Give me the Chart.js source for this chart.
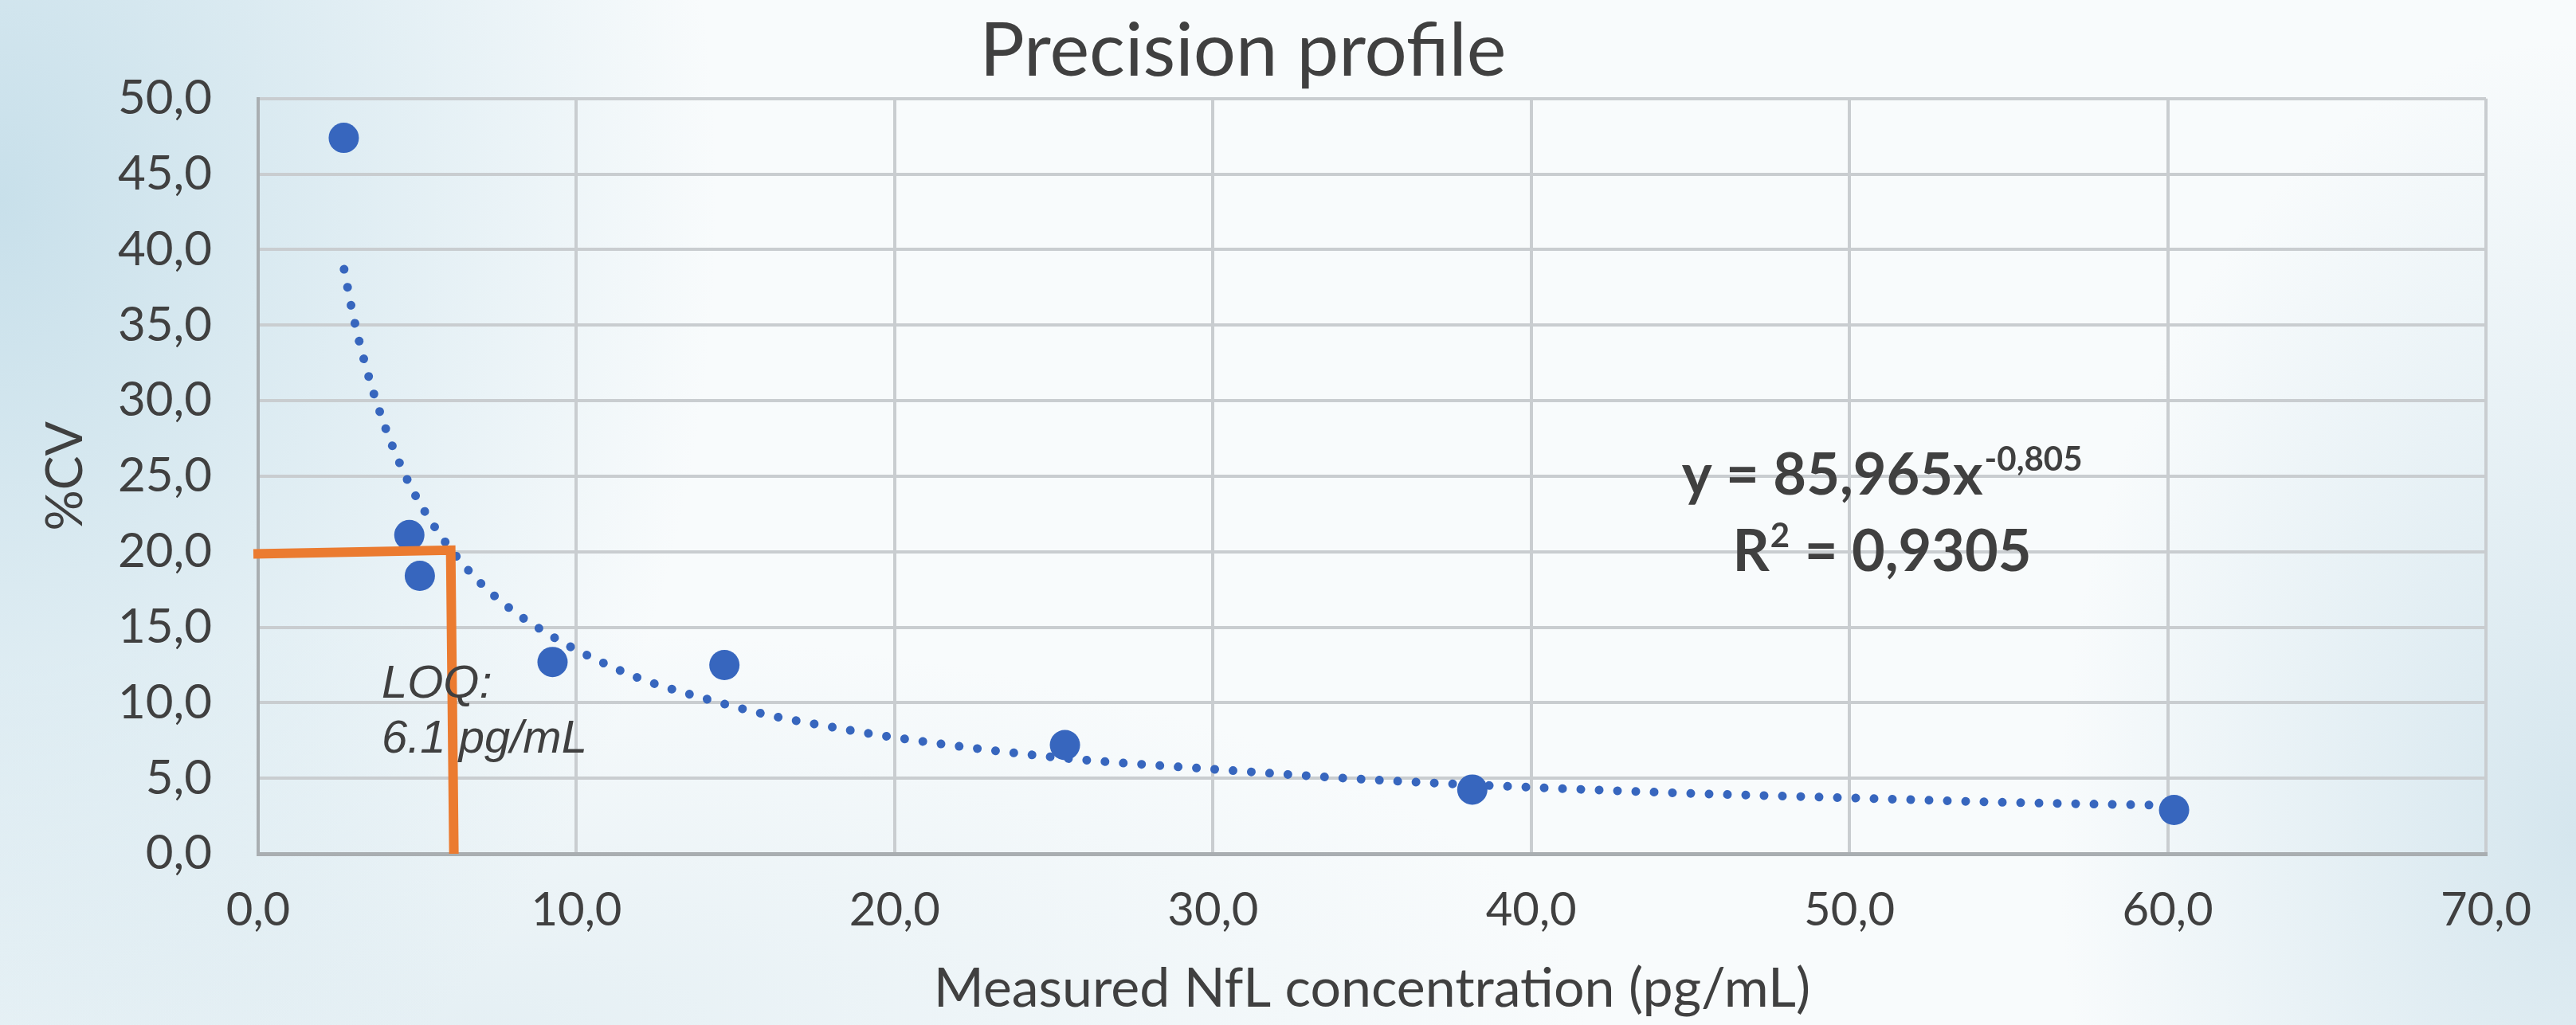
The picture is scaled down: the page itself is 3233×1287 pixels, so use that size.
<!DOCTYPE html>
<html>
<head>
<meta charset="utf-8">
<script src="https://cdn.jsdelivr.net/npm/chart.js@4.4.1/dist/chart.umd.min.js"></script>
<style>
html,body{margin:0;padding:0;width:3233px;height:1287px;overflow:hidden;}
body{
  background:
    radial-gradient(ellipse 900px 1300px at 0px 250px, rgba(188,217,230,0.8), rgba(188,217,230,0) 100%),
    radial-gradient(ellipse 650px 1000px at 3233px 1050px, rgba(198,221,232,0.7), rgba(198,221,232,0) 100%),
    radial-gradient(ellipse 1400px 500px at 600px 1287px, rgba(210,228,236,0.5), rgba(210,228,236,0) 100%),
    #f8fbfc;
}
canvas{display:block;}
</style>
</head>
<body>
<canvas id="c" width="3233" height="1287"></canvas>
<script>
// ---- data ----
const measuredX = [2.69, 4.75, 5.08, 9.25, 14.65, 25.35, 38.15, 60.2];
const cvY       = [47.4, 21.1, 18.4, 12.7, 12.5, 7.2, 4.25, 2.9];

// dotted power trendline
const trendX = [2.7, 3, 3.5, 4, 4.5, 5, 6, 7, 8, 9, 10, 12, 14, 16, 18, 20, 25, 30, 35, 40, 45, 50, 55, 60.2];
const trendY = [38.7, 35.5, 31.4, 28.2, 25.6, 23.5, 20.3, 17.9, 16.1, 14.7, 13.5, 11.6, 10.3, 9.2, 8.4, 7.7, 6.4, 5.6, 4.9, 4.4, 4.0, 3.7, 3.4, 3.2];

// orange LOQ guide line
const loqX = [-0.15, 6.05, 6.15];
const loqY = [19.85, 20.1, 0];

const xTickLabels = ['0,0','10,0','20,0','30,0','40,0','50,0','60,0','70,0'];
const yTickLabels = ['0,0','5,0','10,0','15,0','20,0','25,0','30,0','35,0','40,0','45,0','50,0'];

const titleText = 'Precision profile';
const xTitle = 'Measured NfL concentration (pg/mL)';
const yTitle = '%CV';
const eqMain = 'y = 85,965x';
const eqSup = '-0,805';
const r2Main = 'R';
const r2Sup = '2';
const r2Rest = ' = 0,9305';
const loqLines = ['LOQ:', '6.1 pg/mL'];

const textColor = '#404040';
const blue = '#3766be';
const orange = '#eb7b30';

const toPts = (xs, ys) => xs.map((x, i) => ({x: x, y: ys[i]}));

const annotations = {
  id: 'annotations',
  afterDatasetsDraw(chart) {
    const {ctx, scales: {x, y}} = chart;
    ctx.save();
    ctx.fillStyle = textColor;
    ctx.textBaseline = 'alphabetic';
    // equation
    const cx = x.getPixelForValue(51.0);
    const b1 = y.getPixelForValue(23.8);
    const b2 = y.getPixelForValue(18.7);
    ctx.font = 'bold 72px Lato';
    const wMain = ctx.measureText(eqMain).width;
    ctx.font = 'bold 42px Lato';
    const wSup = ctx.measureText(eqSup).width;
    let sx = cx - (wMain + wSup) / 2;
    ctx.textAlign = 'left';
    ctx.font = 'bold 72px Lato';
    ctx.fillText(eqMain, sx, b1);
    ctx.font = 'bold 42px Lato';
    ctx.fillText(eqSup, sx + wMain + 2, b1 - 30);
    // R²
    ctx.font = 'bold 72px Lato';
    const wR = ctx.measureText(r2Main).width;
    const wRest = ctx.measureText(r2Rest).width;
    ctx.font = 'bold 42px Lato';
    const wR2 = ctx.measureText(r2Sup).width;
    sx = cx - (wR + wR2 + wRest) / 2;
    ctx.font = 'bold 72px Lato';
    ctx.fillText(r2Main, sx, b2);
    ctx.font = 'bold 42px Lato';
    ctx.fillText(r2Sup, sx + wR + 1, b2 - 30);
    ctx.font = 'bold 72px Lato';
    ctx.fillText(r2Rest, sx + wR + wR2 + 2, b2);
    // LOQ text
    ctx.font = 'italic 58px "Liberation Sans"';
    const lx = x.getPixelForValue(3.88);
    ctx.fillText(loqLines[0], lx, y.getPixelForValue(10.34));
    ctx.fillText(loqLines[1], lx, y.getPixelForValue(6.7));
    ctx.restore();
  }
};

new Chart(document.getElementById('c'), {
  type: 'scatter',
  data: {
    datasets: [
      {
        label: 'LOQ',
        type: 'line',
        data: toPts(loqX, loqY),
        borderColor: orange,
        borderWidth: 12,
        pointRadius: 0,
        fill: false,
        clip: false,
        borderJoinStyle: 'miter',
        borderCapStyle: 'butt',
        tension: 0
      },
      {
        label: '%CV',
        data: toPts(measuredX, cvY),
        backgroundColor: blue,
        borderWidth: 0,
        pointRadius: 19,
        pointHoverRadius: 19
      },
      {
        label: 'Trend',
        type: 'line',
        data: toPts(trendX, trendY),
        borderColor: blue,
        borderWidth: 11,
        borderDash: [0.01, 23],
        borderCapStyle: 'round',
        pointRadius: 0,
        fill: false,
        cubicInterpolationMode: 'monotone'
      }
    ]
  },
  options: {
    responsive: false,
    animation: false,
    devicePixelRatio: 1,
    events: [],
    layout: {padding: {left: 0, right: 113, top: 0, bottom: 0}},
    plugins: {
      legend: {display: false},
      tooltip: {enabled: false},
      title: {
        display: true,
        text: titleText,
        color: textColor,
        font: {family: 'Lato', size: 94, weight: 'normal', lineHeight: 1.2},
        padding: {top: 8, bottom: 3}
      }
    },
    scales: {
      x: {
        type: 'linear',
        min: 0, max: 70,
        ticks: {
          stepSize: 10,
          color: textColor,
          padding: 36,
          font: {family: 'Lato', size: 58},
          callback: (v) => xTickLabels[Math.round(v / 10)]
        },
        grid: {color: '#c9cdd0', lineWidth: 4, drawTicks: false},
        border: {color: '#a9aeb1', width: 5},
        title: {
          display: true,
          text: xTitle,
          color: textColor,
          font: {family: 'Lato', size: 68},
          padding: {top: 0, bottom: 4}
        },
        afterFit(s) { s.height = 215; }
      },
      y: {
        type: 'linear',
        min: 0, max: 50,
        ticks: {
          stepSize: 5,
          color: textColor,
          padding: 58,
          font: {family: 'Lato', size: 60},
          callback: (v) => yTickLabels[Math.round(v / 5)]
        },
        grid: {color: '#c9cdd0', lineWidth: 4, drawTicks: false},
        border: {color: '#a9aeb1', width: 4},
        title: {
          display: true,
          text: yTitle,
          color: textColor,
          font: {family: 'Lato', size: 64},
          padding: {top: 44, bottom: 0}
        },
        afterFit(s) { s.width = 324; }
      }
    }
  },
  plugins: [annotations]
});
</script>
</body>
</html>
